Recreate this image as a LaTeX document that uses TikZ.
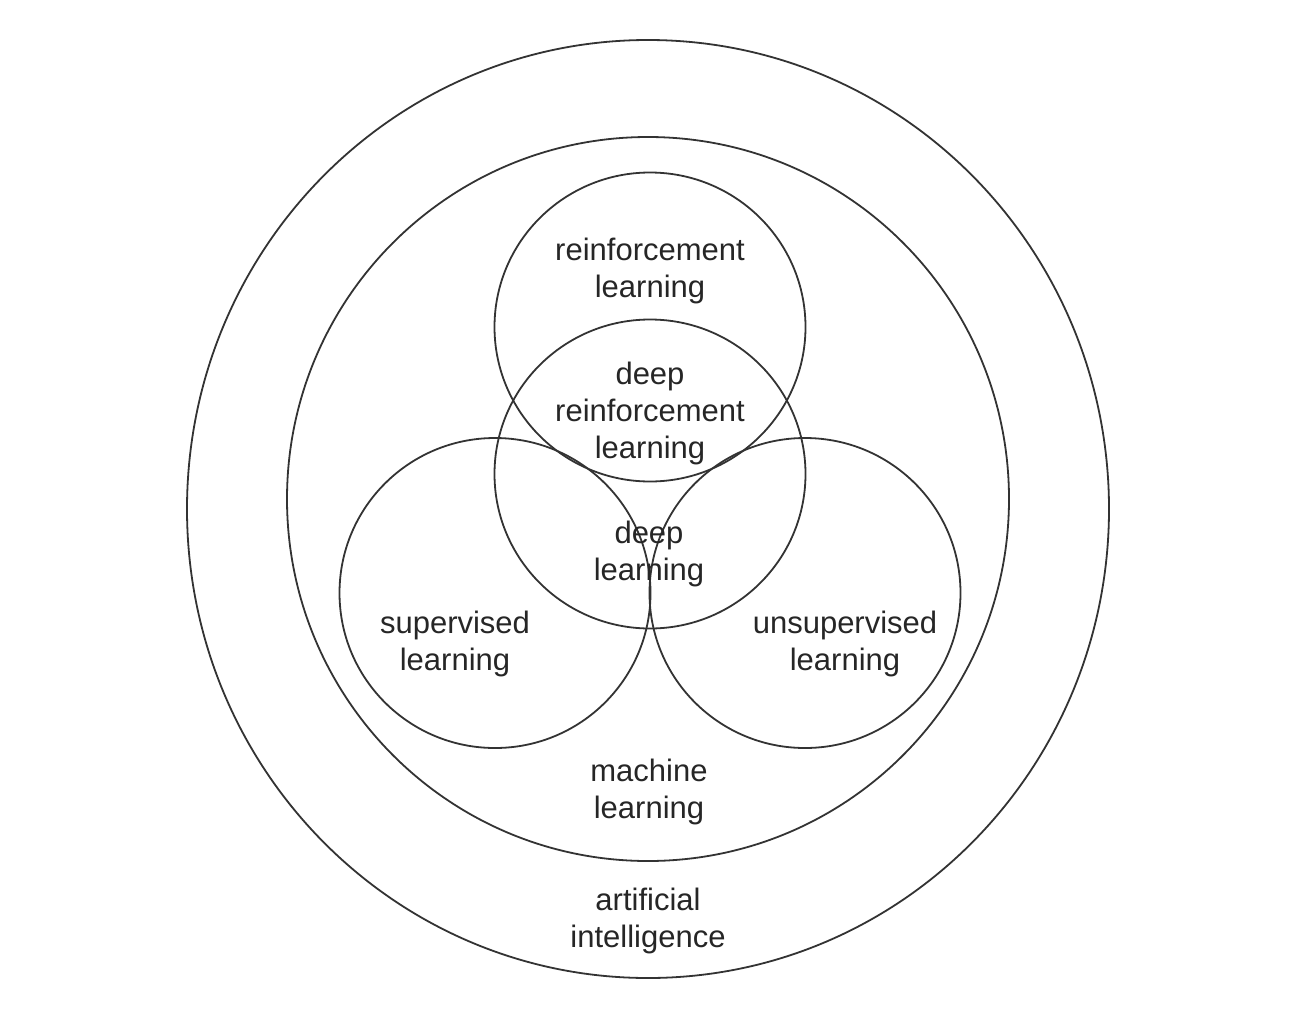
\documentclass[tikz,border=0pt]{standalone}
\usepackage{fontspec}
\setmainfont{Liberation Sans}
\usetikzlibrary{shapes.geometric}
\tikzset{
  ring/.style={draw=black!80, line width=1.8pt, ellipse, inner sep=0pt},
  lbl/.style={align=center, text=black!85, font=\fontsize{31}{37}\selectfont, inner sep=0pt}
}
\begin{document}
\begin{tikzpicture}[x=1pt,y=-1pt]
\useasboundingbox (0,0) rectangle (1298,1028);
\node[ring, minimum width=922pt, minimum height=938pt] (ai) at (648,509) {};
\node[ring, minimum width=722pt, minimum height=724pt] (ml) at (648,499) {};
\node[ring, minimum width=311pt, minimum height=309pt] (rl) at (650,327) {};
\node[ring, minimum width=311pt, minimum height=309pt] (dl) at (650,474) {};
\node[ring, minimum width=311pt, minimum height=310pt] (sl) at (495,593) {};
\node[ring, minimum width=311pt, minimum height=310pt] (ul) at (805,593) {};
\node[lbl] (trl) at (650,271) {reinforcement\\learning};
\node[lbl] (tdrl) at (650,413) {deep\\reinforcement\\learning};
\node[lbl] (tdl) at (649,554) {deep\\learning};
\node[lbl] (tsl) at (455,644) {supervised\\learning};
\node[lbl] (tul) at (845,644) {unsupervised\\learning};
\node[lbl] (tml) at (649,792) {machine\\learning};
\node[lbl] (tai) at (648,921) {artificial\\intelligence};
\end{tikzpicture}
\end{document}
